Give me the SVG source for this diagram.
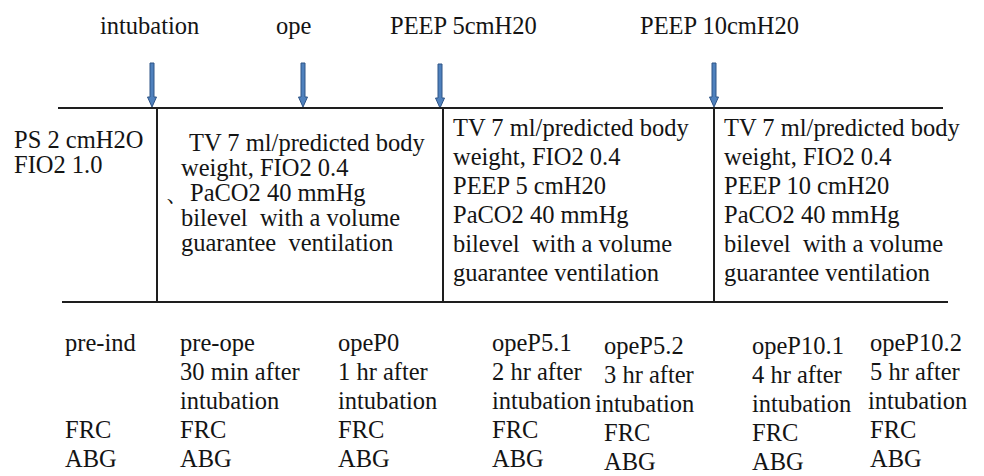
<svg xmlns="http://www.w3.org/2000/svg" xmlns:xlink="http://www.w3.org/1999/xlink" width="984" height="476" viewBox="0 0 984 476">
  <style>
    text { font-family: "Liberation Serif", "Times New Roman", serif; font-size: 24.5px; fill: #141414; white-space: pre; }
    .rule { stroke: #1e1e1e; stroke-width: 2; fill: none; }
    .marker { fill: #4f81bd; stroke: #2f5486; stroke-width: 1; }
  </style>
  <defs>
    <!-- downward event arrow, tip at (0,44) -->
    <path id="down-arrow" class="marker" d="M -2 0 H 2 V 34 H 4.5 L 0 44 L -4.5 34 H -2 Z"/>
  </defs>
  <rect width="984" height="476" fill="#ffffff"/>

  <!-- timeline events -->
  <g id="ev-intubation"><text x="100" y="34">intubation</text></g>
  <g id="ev-ope"><text x="276" y="34">ope</text></g>
  <g id="ev-peep5"><text x="390" y="34">PEEP 5cmH20</text></g>
  <g id="ev-peep10"><text x="640" y="34">PEEP 10cmH20</text></g>

  <g id="connectors">
    <use xlink:href="#down-arrow" x="152" y="63"/>
    <use xlink:href="#down-arrow" x="303" y="63"/>
    <use xlink:href="#down-arrow" x="440" y="64"/>
    <use xlink:href="#down-arrow" x="714" y="63"/>
    <line class="rule" x1="58" y1="108" x2="943" y2="108"/>
    <line class="rule" x1="62" y1="302" x2="948" y2="302"/>
    <line class="rule" x1="157" y1="108" x2="157" y2="302"/>
    <line class="rule" x1="443" y1="108" x2="443" y2="302"/>
    <line class="rule" x1="714" y1="108" x2="714" y2="302"/>
  </g>

  <!-- ventilator settings per phase -->
  <g id="phase-pre">
    <text x="14" y="148">PS 2 cmH2O</text>
    <text x="14" y="173">FIO2 1.0</text>
  </g>
  <g id="phase-ope">
    <text x="189" y="151">TV 7 ml/predicted body</text>
    <text x="181" y="176">weight, FIO2 0.4</text>
    <text x="165" y="201">、PaCO2 40 mmHg</text>
    <text x="181" y="226">bilevel  with a volume</text>
    <text x="181" y="251">guarantee  ventilation</text>
  </g>
  <g id="phase-peep5">
    <text x="453" y="136">TV 7 ml/predicted body</text>
    <text x="453" y="165">weight, FIO2 0.4</text>
    <text x="453" y="194">PEEP 5 cmH20</text>
    <text x="453" y="223">PaCO2 40 mmHg</text>
    <text x="453" y="252">bilevel  with a volume</text>
    <text x="453" y="281">guarantee ventilation</text>
  </g>
  <g id="phase-peep10">
    <text x="724" y="136">TV 7 ml/predicted body</text>
    <text x="724" y="165">weight, FIO2 0.4</text>
    <text x="724" y="194">PEEP 10 cmH20</text>
    <text x="724" y="223">PaCO2 40 mmHg</text>
    <text x="724" y="252">bilevel  with a volume</text>
    <text x="724" y="281">guarantee ventilation</text>
  </g>

  <!-- measurement points -->
  <g id="pt-pre-ind">
    <text x="65" y="351">pre-ind</text>
    <text x="65" y="438">FRC</text>
    <text x="65" y="467">ABG</text>
  </g>
  <g id="pt-pre-ope">
    <text x="180" y="351">pre-ope</text>
    <text x="180" y="380">30 min after</text>
    <text x="180" y="409">intubation</text>
    <text x="180" y="438">FRC</text>
    <text x="180" y="467">ABG</text>
  </g>
  <g id="pt-opeP0">
    <text x="338" y="351">opeP0</text>
    <text x="338" y="380">1 hr after</text>
    <text x="338" y="409">intubation</text>
    <text x="338" y="438">FRC</text>
    <text x="338" y="467">ABG</text>
  </g>
  <g id="pt-opeP5-1">
    <text x="492" y="351">opeP5.1</text>
    <text x="492" y="380">2 hr after</text>
    <text x="492" y="409">intubation</text>
    <text x="492" y="438">FRC</text>
    <text x="492" y="467">ABG</text>
  </g>
  <g id="pt-opeP5-2">
    <text x="604" y="354">opeP5.2</text>
    <text x="604" y="383">3 hr after</text>
    <text x="595" y="412">intubation</text>
    <text x="604" y="441">FRC</text>
    <text x="604" y="470">ABG</text>
  </g>
  <g id="pt-opeP10-1">
    <text x="752" y="354">opeP10.1</text>
    <text x="752" y="383">4 hr after</text>
    <text x="752" y="412">intubation</text>
    <text x="752" y="441">FRC</text>
    <text x="752" y="470">ABG</text>
  </g>
  <g id="pt-opeP10-2">
    <text x="870" y="351">opeP10.2</text>
    <text x="870" y="380">5 hr after</text>
    <text x="868" y="409">intubation</text>
    <text x="870" y="438">FRC</text>
    <text x="870" y="467">ABG</text>
  </g>
</svg>
